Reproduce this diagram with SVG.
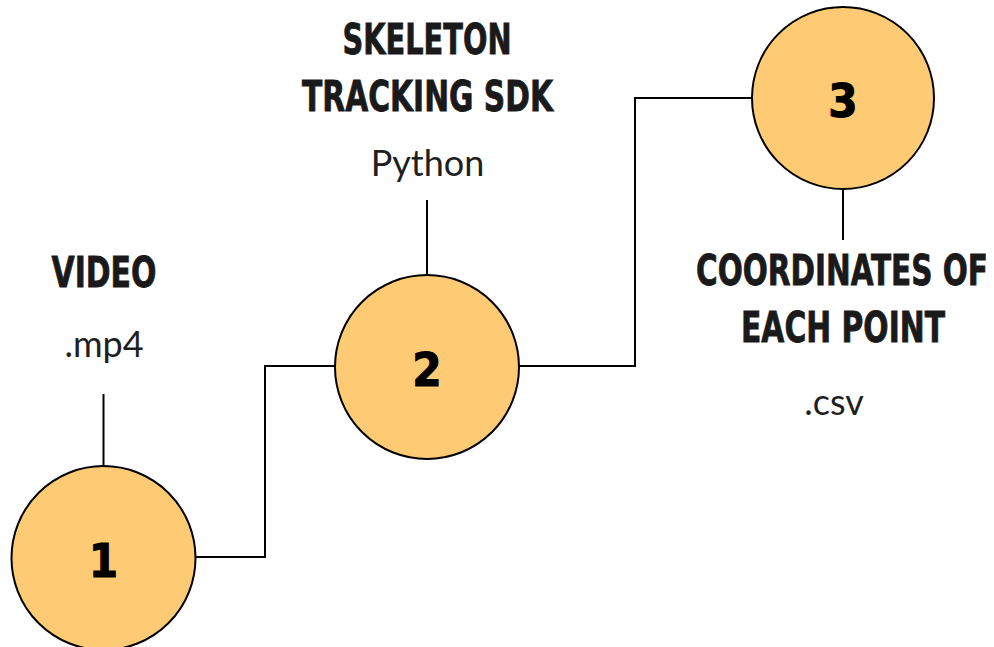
<svg xmlns="http://www.w3.org/2000/svg" width="994" height="647" viewBox="0 0 994 647">
<style>
.c{fill:#FECB74;stroke:#000;stroke-width:2}
.n{font-family:"DejaVu Sans",sans-serif;font-stretch:condensed;font-weight:900;font-size:47px;fill:#000;text-anchor:middle;stroke:#000;stroke-width:1}
.h{font-family:"DejaVu Sans",sans-serif;font-stretch:condensed;font-weight:900;font-size:43px;fill:#1a1a1a;text-anchor:middle;stroke:#1a1a1a;stroke-width:0.8}
.s{font-family:Lato,"Liberation Sans",sans-serif;font-size:36px;fill:#1f1f1f;text-anchor:middle}
.l{fill:none;stroke:#000;stroke-width:2}
</style>
<rect width="994" height="647" fill="#fff"/>
<g id="connectors">
<polyline class="l" points="196,557 265,557 265,366 335,366"/>
<polyline class="l" points="519,366 635,366 635,98 751,98"/>
<line class="l" x1="103.5" y1="394" x2="103.5" y2="467"/>
<line class="l" x1="427" y1="200" x2="427" y2="275"/>
<line class="l" x1="843" y1="188" x2="843" y2="240"/>
</g>
<g id="node1">
<circle class="c" cx="103.5" cy="558" r="92"/>
<text class="n" x="103.5" y="577">1</text>
</g>
<g id="node2">
<circle class="c" cx="427" cy="367" r="92"/>
<text class="n" x="427" y="386">2</text>
</g>
<g id="node3">
<circle class="c" cx="843" cy="98" r="91"/>
<text class="n" x="843" y="117">3</text>
</g>
<g id="label-video">
<text class="h" x="104" y="287" textLength="105" lengthAdjust="spacingAndGlyphs">VIDEO</text>
<text class="s" x="104" y="357">.mp4</text>
</g>
<g id="label-sdk">
<text class="h" x="427" y="54" textLength="169" lengthAdjust="spacingAndGlyphs">SKELETON</text>
<text class="h" x="427.5" y="111" textLength="251" lengthAdjust="spacingAndGlyphs">TRACKING SDK</text>
<text class="s" x="427.5" y="176">Python</text>
</g>
<g id="label-coords">
<text class="h" x="842" y="285" textLength="292" lengthAdjust="spacingAndGlyphs">COORDINATES OF</text>
<text class="h" x="843" y="342" textLength="204" lengthAdjust="spacingAndGlyphs">EACH POINT</text>
<text class="s" x="834" y="415">.csv</text>
</g>
</svg>
